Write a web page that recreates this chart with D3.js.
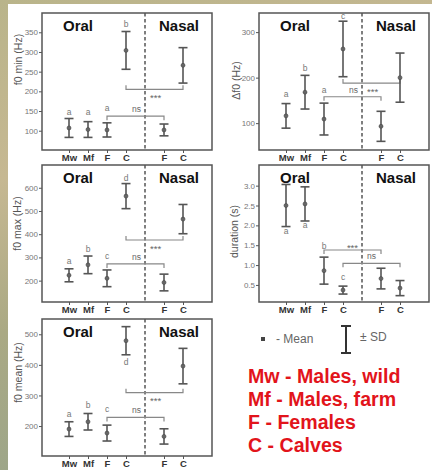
<!DOCTYPE html>
<html>
<head>
<meta charset="utf-8">
<script src="https://cdn.jsdelivr.net/npm/d3@7"></script>
<style>
  body { margin: 0; background: #fff; }
  text { font-family: Arial, "Liberation Sans", sans-serif; }
</style>
</head>
<body>
<script>
// groups along the x axis: four oral, then two nasal
const groupKeys = ["Mw", "Mf", "F", "C", "nF", "nC"];
const groupLabels = ["Mw", "Mf", "F", "C", "F", "C"];

// f0 min (Hz)
const f0minMean = [107, 103, 102, 304, 102, 266];
const f0minSd = [24, 20, 18, 48, 15, 45];
const f0minTicks = [100, 150, 200, 250, 300, 350];
const f0minLetters = ["a", "a", "a", "b", "", ""];

// delta f0 (Hz)
const df0Mean = [116, 168, 109, 263, 93, 200];
const df0Sd = [27, 37, 35, 61, 33, 54];
const df0Ticks = [100, 200, 300];
const df0Letters = ["a", "b", "a", "c", "", ""];

// f0 max (Hz)
const f0maxMean = [223, 268, 210, 564, 192, 465];
const f0maxSd = [28, 38, 36, 54, 36, 63];
const f0maxTicks = [200, 300, 400, 500, 600];
const f0maxLetters = ["a", "b", "c", "d", "", ""];

// duration (s)
const durMean = [2.5, 2.54, 0.86, 0.37, 0.66, 0.42];
const durSd = [0.53, 0.43, 0.34, 0.1, 0.26, 0.19];
const durTicks = [0.5, 1.0, 1.5, 2.0, 2.5, 3.0];
const durLetters = ["a", "a", "b", "c", "", ""];

// f0 mean (Hz)
const f0meanMean = [190, 214, 177, 479, 166, 396];
const f0meanSd = [24, 27, 26, 46, 25, 58];
const f0meanTicks = [200, 300, 400, 500];
const f0meanLetters = ["a", "b", "c", "d", "", ""];

// comparison brackets: [from, to, level, label]
const f0minBrackets = [["F", "nF", 137, "ns"], ["C", "nC", 205, "***"]];
const df0Brackets = [["F", "nF", 158, "ns"], ["C", "nC", 188, "***"]];
const f0maxBrackets = [["F", "nF", 272, "ns"], ["C", "nC", 375, "***"]];
const durBrackets = [["F", "nF", 1.38, "***"], ["C", "nC", 1.045, "ns"]];
const f0meanBrackets = [["F", "nF", 228, "ns"], ["C", "nC", 309, "***"]];

const legendLines = ["Mw - Males, wild", "Mf - Males, farm", "F - Females", "C - Calves"];

const panels = [
  { title: "f0 min (Hz)", mean: f0minMean, sd: f0minSd, ticks: f0minTicks, letters: f0minLetters,
    brackets: f0minBrackets, domain: [51, 399], col: 0, row: 0, fmt: d3.format("d"),
    labelX: 22, labelDy: -22, gaps: [4, 7, 12, 5], below: [0, 0, 0, 0],
    bLayout: [{ tick: 4, side: "left", place: "above" }, { tick: -4, side: "right", place: "below" }] },
  { title: "\u0394f0 (Hz)", mean: df0Mean, sd: df0Sd, ticks: df0Ticks, letters: df0Letters,
    brackets: df0Brackets, domain: [41, 342], col: 1, row: 0, fmt: d3.format("d"),
    labelX: 240, labelDy: -1, gaps: [7, 4.5, 10.5, 2], below: [0, 0, 0, 0],
    bLayout: [{ tick: 4, side: "left", place: "above" }, { tick: -4, side: "right", place: "below" }] },
  { title: "f0 max (Hz)", mean: f0maxMean, sd: f0maxSd, ticks: f0maxTicks, letters: f0maxLetters,
    brackets: f0maxBrackets, domain: [108, 698], col: 0, row: 1, fmt: d3.format("d"),
    labelX: 21, labelDy: -10, gaps: [5, 4, 10.5, 3], below: [0, 0, 0, 0],
    bLayout: [{ tick: 4, side: "left", place: "above" }, { tick: -4, side: "right", place: "below" }] },
  { title: "duration (s)", mean: durMean, sd: durSd, ticks: durTicks, letters: durLetters,
    brackets: durBrackets, domain: [0.07, 3.52], col: 1, row: 1, fmt: d3.format(".1f"),
    labelX: 238, labelDy: -2, gaps: [7, 7.5, 8.5, 6], below: [1, 1, 0, 0],
    bLayout: [{ tick: 4, side: "left", place: "above" }, { tick: 4, side: "right", place: "above" }] },
  { title: "f0 mean (Hz)", mean: f0meanMean, sd: f0meanSd, ticks: f0meanTicks, letters: f0meanLetters,
    brackets: f0meanBrackets, domain: [102, 550], col: 0, row: 2, fmt: d3.format("d"),
    labelX: 22, labelDy: -15, gaps: [4.5, 5.5, 13, 10.5], below: [0, 0, 0, 1],
    bLayout: [{ tick: 4, side: "left", place: "above" }, { tick: -4, side: "right", place: "below" }] }
];

const W = 170, H = 137;
const colX = [42, 259];
const rowY = [13, 165, 319];
const ink = "#555";

const svg = d3.select("body").append("svg")
  .attr("width", 432).attr("height", 470);

// grassy photo border around the white slide
const defs = svg.append("defs");
const grad = defs.append("linearGradient").attr("id", "bg")
  .attr("x1", 0).attr("y1", 0).attr("x2", 0.3).attr("y2", 1);
[["0%", "#b9b48a"], ["35%", "#c6b892"], ["65%", "#aaa984"], ["100%", "#9aa58a"]]
  .forEach(([o, c]) => grad.append("stop").attr("offset", o).attr("stop-color", c));
svg.append("rect").attr("width", 432).attr("height", 470).attr("fill", "url(#bg)");
svg.append("rect").attr("x", 8).attr("y", 4).attr("width", 424).attr("height", 466).attr("fill", "#fff");

panels.forEach((p) => {
  const left = colX[p.col], top = rowY[p.row];
  const g = svg.append("g").attr("transform", `translate(${left},${top})`);

  const x = d3.scalePoint()
    .domain(["Mw", "Mf", "F", "C", "div", "nF", "nC"])
    .range([27, 141]);
  const y = d3.scaleLinear().domain(p.domain).range([H, 0]);

  // y axis
  const ya = g.append("g")
    .call(d3.axisLeft(y).tickValues(p.ticks).tickSize(3).tickPadding(1).tickFormat(p.fmt));
  ya.select(".domain").remove();
  ya.selectAll("line").attr("stroke", ink);
  ya.selectAll("text").attr("fill", "#777").style("font-size", "8px");

  // x axis
  const xa = g.append("g").attr("transform", `translate(0,${H})`)
    .call(d3.axisBottom(x).tickValues(groupKeys).tickSize(3).tickPadding(1.5)
      .tickFormat((d) => groupLabels[groupKeys.indexOf(d)]));
  xa.select(".domain").remove();
  xa.selectAll("line").attr("stroke", ink);
  xa.selectAll("text").attr("fill", "#333").style("font-size", "9.5px").style("font-weight", "bold");

  // frame
  g.append("rect").attr("width", W).attr("height", H)
    .attr("fill", "none").attr("stroke", ink).attr("stroke-width", 1.5);

  // oral / nasal divider
  g.append("line")
    .attr("x1", x("div")).attr("x2", x("div"))
    .attr("y1", 0).attr("y2", H)
    .attr("stroke", ink).attr("stroke-width", 1.5)
    .attr("stroke-dasharray", "3.5,2.5");

  g.append("text").attr("x", 21).attr("y", 17.5)
    .style("font-size", "15px").style("font-weight", "bold").attr("fill", "#111")
    .text("Oral");
  g.append("text").attr("x", W - 13).attr("y", 17.5).attr("text-anchor", "end")
    .style("font-size", "15px").style("font-weight", "bold").attr("fill", "#111")
    .text("Nasal");

  // axis title
  svg.append("text")
    .attr("transform", `translate(${p.labelX},${top + H / 2 + p.labelDy}) rotate(-90)`)
    .attr("text-anchor", "middle")
    .attr("fill", ink).style("font-size", "10.5px")
    .text(p.title);

  const rows = groupKeys.map((k, i) => ({ k, m: p.mean[i], s: p.sd[i], i }));

  // brackets
  p.brackets.forEach((b, j) => {
    const lay = p.bLayout[j];
    const x1 = x(b[0]), x2 = x(b[1]), yy = y(b[2]);
    g.append("path")
      .attr("d", `M${x1},${yy + lay.tick}V${yy}H${x2}V${yy + lay.tick}`)
      .attr("fill", "none").attr("stroke", "#888").attr("stroke-width", 1.2);
    const isStar = b[3] === "***";
    let ty;
    if (lay.place === "above") ty = isStar ? yy + 1.5 : yy - 4;
    else ty = yy + 11.5;
    g.append("text")
      .attr("x", lay.side === "left" ? x("div") - 4 : x("div") + 5)
      .attr("y", ty)
      .attr("text-anchor", lay.side === "left" ? "end" : "start")
      .attr("fill", "#666").style("font-size", isStar ? "9.5px" : "8.5px")
      .text(b[3]);
  });

  // error bars (mean +/- SD)
  const bars = g.selectAll(".bar").data(rows).enter().append("g").attr("class", "bar");
  bars.append("line")
    .attr("x1", (d) => x(d.k)).attr("x2", (d) => x(d.k))
    .attr("y1", (d) => y(d.m - d.s)).attr("y2", (d) => y(d.m + d.s))
    .attr("stroke", ink).attr("stroke-width", 1.6);
  bars.append("line")
    .attr("x1", (d) => x(d.k) - 4.5).attr("x2", (d) => x(d.k) + 4.5)
    .attr("y1", (d) => y(d.m + d.s)).attr("y2", (d) => y(d.m + d.s))
    .attr("stroke", ink).attr("stroke-width", 1.6);
  bars.append("line")
    .attr("x1", (d) => x(d.k) - 4.5).attr("x2", (d) => x(d.k) + 4.5)
    .attr("y1", (d) => y(d.m - d.s)).attr("y2", (d) => y(d.m - d.s))
    .attr("stroke", ink).attr("stroke-width", 1.6);
  bars.append("circle")
    .attr("cx", (d) => x(d.k)).attr("cy", (d) => y(d.m)).attr("r", 2)
    .attr("fill", "#666").attr("stroke", "#444").attr("stroke-width", 0.6);

  // group letters
  g.selectAll(".letter").data(rows.filter((d) => p.letters[d.i])).enter()
    .append("text").attr("class", "letter")
    .attr("x", (d) => x(d.k))
    .attr("y", (d) => p.below[d.i]
      ? y(d.m - d.s) + p.gaps[d.i]
      : y(d.m + d.s) - p.gaps[d.i])
    .attr("text-anchor", "middle")
    .attr("fill", "#777").style("font-size", "8.5px")
    .text((d) => p.letters[d.i]);
});

// legend
svg.append("rect").attr("x", 261).attr("y", 337).attr("width", 4).attr("height", 4).attr("fill", "#444");
svg.append("text").attr("x", 276).attr("y", 343).attr("fill", "#666").style("font-size", "12px").text("- Mean");
const leg = svg.append("g").attr("stroke", "#333").attr("stroke-width", 2);
leg.append("line").attr("x1", 346).attr("x2", 346).attr("y1", 326).attr("y2", 353);
leg.append("line").attr("x1", 341).attr("x2", 351).attr("y1", 326).attr("y2", 326);
leg.append("line").attr("x1", 341).attr("x2", 351).attr("y1", 353).attr("y2", 353);
svg.append("text").attr("x", 360).attr("y", 341).attr("fill", "#666").style("font-size", "12px").text("\u00b1 SD");

svg.selectAll(".key").data(legendLines).enter().append("text").attr("class", "key")
  .attr("x", 248).attr("y", (d, i) => 383 + i * 23)
  .attr("fill", "#e2141b").style("font-size", "19.6px").style("font-weight", "bold")
  .text((d) => d);
</script>
</body>
</html>
